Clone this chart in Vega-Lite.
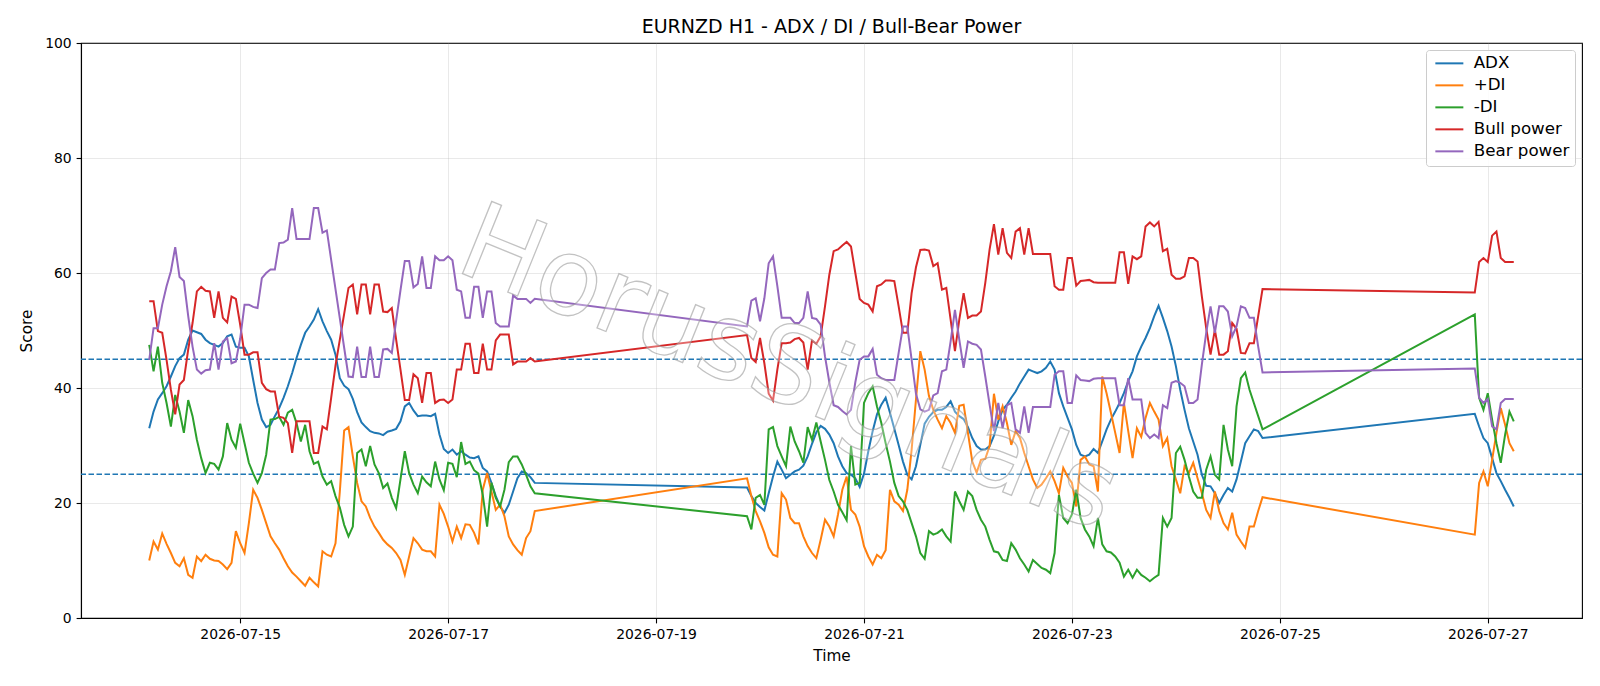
{
  "$schema": "https://vega.github.io/schema/vega-lite/v6.json",
  "autosize": {"type": "none"},
  "width": 1501,
  "height": 575,
  "padding": {"left": 81, "top": 43, "right": 18, "bottom": 68},
  "background": "white",
  "title": {"text": "EURNZD H1 - ADX / DI / Bull-Bear Power", "font": "DejaVu Sans", "fontSize": 19, "fontWeight": "normal", "color": "black", "anchor": "middle", "offset": -1},
  "config": {
    "view": {"stroke": "black", "strokeWidth": 1.1},
    "axis": {"domainColor": "black", "domainWidth": 1.1, "tickColor": "black", "tickWidth": 1.1, "tickSize": 4.9, "labelColor": "black", "titleColor": "black", "labelFont": "DejaVu Sans", "titleFont": "DejaVu Sans", "labelFontSize": 13.9, "titleFontSize": 15.3, "titleFontWeight": "normal", "labelPadding": 4.9, "grid": true, "gridColor": "#b0b0b0", "gridOpacity": 0.35, "gridWidth": 0.8},
    "legend": {"labelFont": "DejaVu Sans", "labelFontSize": 16.7, "labelColor": "black"}
  },
  "datasets": {
    "ind": [
      {"t":"2026-07-14T03:00Z","ADX":33.0,"+DI":10.0,"-DI":47.5,"Bull power":55.1,"Bear power":44.9},
      {"t":"2026-07-14T04:00Z","ADX":35.9,"+DI":13.3,"-DI":42.9,"Bull power":55.1,"Bear power":50.4},
      {"t":"2026-07-14T05:00Z","ADX":38.0,"+DI":11.9,"-DI":47.2,"Bull power":49.9,"Bear power":50.4},
      {"t":"2026-07-14T06:00Z","ADX":39.1,"+DI":14.7,"-DI":40.9,"Bull power":49.6,"Bear power":54.5},
      {"t":"2026-07-14T07:00Z","ADX":40.3,"+DI":12.9,"-DI":37.4,"Bull power":44.9,"Bear power":57.7},
      {"t":"2026-07-14T08:00Z","ADX":42.0,"+DI":11.3,"-DI":33.3,"Bull power":39.7,"Bear power":60.3},
      {"t":"2026-07-14T09:00Z","ADX":43.8,"+DI":9.6,"-DI":38.8,"Bull power":35.4,"Bear power":64.5},
      {"t":"2026-07-14T10:00Z","ADX":45.2,"+DI":9.0,"-DI":35.9,"Bull power":40.6,"Bear power":59.3},
      {"t":"2026-07-14T11:00Z","ADX":45.8,"+DI":10.4,"-DI":32.2,"Bull power":41.4,"Bear power":58.6},
      {"t":"2026-07-14T12:00Z","ADX":48.4,"+DI":7.5,"-DI":37.9,"Bull power":46.7,"Bear power":52.5},
      {"t":"2026-07-14T13:00Z","ADX":50.0,"+DI":7.0,"-DI":35.1,"Bull power":51.3,"Bear power":47.2},
      {"t":"2026-07-14T14:00Z","ADX":49.7,"+DI":10.7,"-DI":31.0,"Bull power":56.8,"Bear power":43.2},
      {"t":"2026-07-14T15:00Z","ADX":49.4,"+DI":9.9,"-DI":27.8,"Bull power":57.6,"Bear power":42.5},
      {"t":"2026-07-14T16:00Z","ADX":48.4,"+DI":11.0,"-DI":25.2,"Bull power":56.9,"Bear power":43.1},
      {"t":"2026-07-14T17:00Z","ADX":47.8,"+DI":10.3,"-DI":27.0,"Bull power":56.8,"Bear power":43.2},
      {"t":"2026-07-14T18:00Z","ADX":47.5,"+DI":10.0,"-DI":26.8,"Bull power":52.2,"Bear power":47.8},
      {"t":"2026-07-14T19:00Z","ADX":47.2,"+DI":9.9,"-DI":25.8,"Bull power":56.8,"Bear power":43.2},
      {"t":"2026-07-14T20:00Z","ADX":47.8,"+DI":9.3,"-DI":28.1,"Bull power":52.2,"Bear power":48.1},
      {"t":"2026-07-14T21:00Z","ADX":49.0,"+DI":8.5,"-DI":33.9,"Bull power":51.4,"Bear power":48.7},
      {"t":"2026-07-14T22:00Z","ADX":49.3,"+DI":9.6,"-DI":31.0,"Bull power":55.9,"Bear power":44.3},
      {"t":"2026-07-14T23:00Z","ADX":47.2,"+DI":15.1,"-DI":29.6,"Bull power":55.5,"Bear power":44.6},
      {"t":"2026-07-15T00:00Z","ADX":47.0,"+DI":13.0,"-DI":33.8,"Bull power":51.0,"Bear power":48.6},
      {"t":"2026-07-15T01:00Z","ADX":47.0,"+DI":11.3,"-DI":30.4,"Bull power":45.8,"Bear power":54.5},
      {"t":"2026-07-15T02:00Z","ADX":45.5,"+DI":16.5,"-DI":27.0,"Bull power":45.8,"Bear power":54.5},
      {"t":"2026-07-15T03:00Z","ADX":41.4,"+DI":22.3,"-DI":25.1,"Bull power":46.2,"Bear power":54.1},
      {"t":"2026-07-15T04:00Z","ADX":37.4,"+DI":20.9,"-DI":23.5,"Bull power":46.2,"Bear power":53.9},
      {"t":"2026-07-15T05:00Z","ADX":34.5,"+DI":18.8,"-DI":25.2,"Bull power":40.9,"Bear power":59.1},
      {"t":"2026-07-15T06:00Z","ADX":33.2,"+DI":16.5,"-DI":28.4,"Bull power":39.8,"Bear power":60.0},
      {"t":"2026-07-15T07:00Z","ADX":33.6,"+DI":14.2,"-DI":34.5,"Bull power":39.4,"Bear power":60.6},
      {"t":"2026-07-15T08:00Z","ADX":35.1,"+DI":13.0,"-DI":34.6,"Bull power":39.4,"Bear power":60.6},
      {"t":"2026-07-15T09:00Z","ADX":36.5,"+DI":11.9,"-DI":35.0,"Bull power":35.0,"Bear power":65.2},
      {"t":"2026-07-15T10:00Z","ADX":38.3,"+DI":10.4,"-DI":33.6,"Bull power":34.8,"Bear power":65.3},
      {"t":"2026-07-15T11:00Z","ADX":40.3,"+DI":9.0,"-DI":35.7,"Bull power":33.9,"Bear power":65.8},
      {"t":"2026-07-15T12:00Z","ADX":42.6,"+DI":7.9,"-DI":36.2,"Bull power":28.7,"Bear power":71.3},
      {"t":"2026-07-15T13:00Z","ADX":45.2,"+DI":7.2,"-DI":33.9,"Bull power":34.2,"Bear power":65.9},
      {"t":"2026-07-15T14:00Z","ADX":47.5,"+DI":6.4,"-DI":30.7,"Bull power":34.2,"Bear power":65.9},
      {"t":"2026-07-15T15:00Z","ADX":49.6,"+DI":5.6,"-DI":33.6,"Bull power":34.2,"Bear power":65.9},
      {"t":"2026-07-15T16:00Z","ADX":50.7,"+DI":7.0,"-DI":29.0,"Bull power":34.2,"Bear power":65.9},
      {"t":"2026-07-15T17:00Z","ADX":51.9,"+DI":6.2,"-DI":26.8,"Bull power":28.7,"Bear power":71.3},
      {"t":"2026-07-15T18:00Z","ADX":53.7,"+DI":5.5,"-DI":27.2,"Bull power":28.7,"Bear power":71.3},
      {"t":"2026-07-15T19:00Z","ADX":51.6,"+DI":11.6,"-DI":24.6,"Bull power":33.3,"Bear power":67.0},
      {"t":"2026-07-15T20:00Z","ADX":49.9,"+DI":11.0,"-DI":23.2,"Bull power":32.8,"Bear power":67.4},
      {"t":"2026-07-15T21:00Z","ADX":48.4,"+DI":10.7,"-DI":23.8,"Bull power":38.3,"Bear power":62.3},
      {"t":"2026-07-15T22:00Z","ADX":45.8,"+DI":13.0,"-DI":21.2,"Bull power":43.9,"Bear power":57.2},
      {"t":"2026-07-15T23:00Z","ADX":41.7,"+DI":22.0,"-DI":19.2,"Bull power":48.4,"Bear power":52.1},
      {"t":"2026-07-16T00:00Z","ADX":40.4,"+DI":32.6,"-DI":16.2,"Bull power":52.9,"Bear power":47.0},
      {"t":"2026-07-16T01:00Z","ADX":39.8,"+DI":33.2,"-DI":14.2,"Bull power":57.4,"Bear power":42.0},
      {"t":"2026-07-16T02:00Z","ADX":38.1,"+DI":28.1,"-DI":15.9,"Bull power":58.0,"Bear power":41.9},
      {"t":"2026-07-16T03:00Z","ADX":35.8,"+DI":23.5,"-DI":28.7,"Bull power":52.8,"Bear power":47.2},
      {"t":"2026-07-16T04:00Z","ADX":34.0,"+DI":20.3,"-DI":29.3,"Bull power":58.0,"Bear power":41.9},
      {"t":"2026-07-16T05:00Z","ADX":33.2,"+DI":19.4,"-DI":26.4,"Bull power":58.0,"Bear power":41.9},
      {"t":"2026-07-16T06:00Z","ADX":32.5,"+DI":17.4,"-DI":29.9,"Bull power":52.8,"Bear power":47.2},
      {"t":"2026-07-16T07:00Z","ADX":32.2,"+DI":15.9,"-DI":26.7,"Bull power":58.0,"Bear power":41.9},
      {"t":"2026-07-16T08:00Z","ADX":32.1,"+DI":14.8,"-DI":25.2,"Bull power":58.0,"Bear power":41.9},
      {"t":"2026-07-16T09:00Z","ADX":31.8,"+DI":13.6,"-DI":22.6,"Bull power":53.3,"Bear power":46.7},
      {"t":"2026-07-16T10:00Z","ADX":32.4,"+DI":12.8,"-DI":23.4,"Bull power":53.2,"Bear power":46.8},
      {"t":"2026-07-16T11:00Z","ADX":32.6,"+DI":12.2,"-DI":20.9,"Bull power":53.9,"Bear power":46.1},
      {"t":"2026-07-16T12:00Z","ADX":32.9,"+DI":11.3,"-DI":19.1,"Bull power":48.4,"Bear power":51.7},
      {"t":"2026-07-16T13:00Z","ADX":34.2,"+DI":10.1,"-DI":24.1,"Bull power":43.2,"Bear power":57.0},
      {"t":"2026-07-16T14:00Z","ADX":36.8,"+DI":7.5,"-DI":29.0,"Bull power":37.9,"Bear power":62.1},
      {"t":"2026-07-16T15:00Z","ADX":37.4,"+DI":10.7,"-DI":25.2,"Bull power":37.9,"Bear power":62.1},
      {"t":"2026-07-16T16:00Z","ADX":36.1,"+DI":13.9,"-DI":23.2,"Bull power":42.4,"Bear power":57.5},
      {"t":"2026-07-16T17:00Z","ADX":35.1,"+DI":13.0,"-DI":21.7,"Bull power":41.7,"Bear power":58.1},
      {"t":"2026-07-16T18:00Z","ADX":35.2,"+DI":11.9,"-DI":24.6,"Bull power":37.4,"Bear power":62.9},
      {"t":"2026-07-16T19:00Z","ADX":35.2,"+DI":11.6,"-DI":23.6,"Bull power":42.6,"Bear power":57.4},
      {"t":"2026-07-16T20:00Z","ADX":35.1,"+DI":11.6,"-DI":22.9,"Bull power":42.6,"Bear power":57.4},
      {"t":"2026-07-16T21:00Z","ADX":35.5,"+DI":10.7,"-DI":27.2,"Bull power":37.4,"Bear power":62.9},
      {"t":"2026-07-16T22:00Z","ADX":31.9,"+DI":19.7,"-DI":24.1,"Bull power":37.9,"Bear power":62.2},
      {"t":"2026-07-16T23:00Z","ADX":29.4,"+DI":18.1,"-DI":22.2,"Bull power":38.0,"Bear power":62.2},
      {"t":"2026-07-17T00:00Z","ADX":28.7,"+DI":15.9,"-DI":27.0,"Bull power":37.4,"Bear power":62.9},
      {"t":"2026-07-17T01:00Z","ADX":29.3,"+DI":13.3,"-DI":26.8,"Bull power":38.0,"Bear power":62.2},
      {"t":"2026-07-17T02:00Z","ADX":28.4,"+DI":15.9,"-DI":24.5,"Bull power":43.2,"Bear power":57.1},
      {"t":"2026-07-17T03:00Z","ADX":29.0,"+DI":13.9,"-DI":30.6,"Bull power":43.2,"Bear power":56.8},
      {"t":"2026-07-17T04:00Z","ADX":28.4,"+DI":16.3,"-DI":26.8,"Bull power":47.7,"Bear power":52.2},
      {"t":"2026-07-17T05:00Z","ADX":27.9,"+DI":16.2,"-DI":27.2,"Bull power":47.7,"Bear power":52.2},
      {"t":"2026-07-17T06:00Z","ADX":27.8,"+DI":14.8,"-DI":25.7,"Bull power":42.6,"Bear power":57.6},
      {"t":"2026-07-17T07:00Z","ADX":28.1,"+DI":12.8,"-DI":25.1,"Bull power":42.6,"Bear power":57.6},
      {"t":"2026-07-17T08:00Z","ADX":26.1,"+DI":22.3,"-DI":21.4,"Bull power":47.7,"Bear power":52.2},
      {"t":"2026-07-17T09:00Z","ADX":25.5,"+DI":25.2,"-DI":15.9,"Bull power":43.2,"Bear power":56.8},
      {"t":"2026-07-17T10:00Z","ADX":23.5,"+DI":22.0,"-DI":23.5,"Bull power":43.2,"Bear power":56.8},
      {"t":"2026-07-17T11:00Z","ADX":21.2,"+DI":18.8,"-DI":20.9,"Bull power":48.3,"Bear power":51.3},
      {"t":"2026-07-17T12:00Z","ADX":19.4,"+DI":19.7,"-DI":19.4,"Bull power":49.3,"Bear power":50.7},
      {"t":"2026-07-17T13:00Z","ADX":18.3,"+DI":17.7,"-DI":22.3,"Bull power":49.3,"Bear power":50.7},
      {"t":"2026-07-17T14:00Z","ADX":19.7,"+DI":14.2,"-DI":27.1,"Bull power":49.3,"Bear power":50.7},
      {"t":"2026-07-17T15:00Z","ADX":22.0,"+DI":12.8,"-DI":28.1,"Bull power":44.1,"Bear power":56.1},
      {"t":"2026-07-17T16:00Z","ADX":24.3,"+DI":11.8,"-DI":28.1,"Bull power":44.6,"Bear power":55.5},
      {"t":"2026-07-17T17:00Z","ADX":25.5,"+DI":11.0,"-DI":26.7,"Bull power":44.6,"Bear power":55.5},
      {"t":"2026-07-17T18:00Z","ADX":25.2,"+DI":13.9,"-DI":24.9,"Bull power":44.6,"Bear power":55.5},
      {"t":"2026-07-17T19:00Z","ADX":24.5,"+DI":15.1,"-DI":22.9,"Bull power":45.2,"Bear power":54.8},
      {"t":"2026-07-17T20:00Z","ADX":23.5,"+DI":18.6,"-DI":21.7,"Bull power":44.6,"Bear power":55.5},
      {"t":"2026-07-19T21:00Z","ADX":22.7,"+DI":24.3,"-DI":17.7,"Bull power":49.2,"Bear power":50.7},
      {"t":"2026-07-19T22:00Z","ADX":21.2,"+DI":21.2,"-DI":15.4,"Bull power":45.2,"Bear power":55.2},
      {"t":"2026-07-19T23:00Z","ADX":20.0,"+DI":18.6,"-DI":20.9,"Bull power":44.5,"Bear power":55.6},
      {"t":"2026-07-20T00:00Z","ADX":19.3,"+DI":16.8,"-DI":21.4,"Bull power":48.7,"Bear power":51.6},
      {"t":"2026-07-20T01:00Z","ADX":18.7,"+DI":14.8,"-DI":19.7,"Bull power":44.3,"Bear power":55.6},
      {"t":"2026-07-20T02:00Z","ADX":21.7,"+DI":12.3,"-DI":32.8,"Bull power":39.0,"Bear power":61.7},
      {"t":"2026-07-20T03:00Z","ADX":24.6,"+DI":11.0,"-DI":33.2,"Bull power":37.8,"Bear power":62.9},
      {"t":"2026-07-20T04:00Z","ADX":27.2,"+DI":10.7,"-DI":29.9,"Bull power":43.2,"Bear power":57.7},
      {"t":"2026-07-20T05:00Z","ADX":25.8,"+DI":21.7,"-DI":28.1,"Bull power":47.8,"Bear power":52.2},
      {"t":"2026-07-20T06:00Z","ADX":24.3,"+DI":20.6,"-DI":26.4,"Bull power":47.8,"Bear power":52.2},
      {"t":"2026-07-20T07:00Z","ADX":24.9,"+DI":17.4,"-DI":33.3,"Bull power":47.9,"Bear power":52.2},
      {"t":"2026-07-20T08:00Z","ADX":25.5,"+DI":16.5,"-DI":30.7,"Bull power":48.5,"Bear power":51.3},
      {"t":"2026-07-20T09:00Z","ADX":25.8,"+DI":16.5,"-DI":29.0,"Bull power":48.7,"Bear power":51.3},
      {"t":"2026-07-20T10:00Z","ADX":26.5,"+DI":14.2,"-DI":27.0,"Bull power":47.9,"Bear power":52.2},
      {"t":"2026-07-20T11:00Z","ADX":28.1,"+DI":12.5,"-DI":33.2,"Bull power":43.2,"Bear power":56.8},
      {"t":"2026-07-20T12:00Z","ADX":30.3,"+DI":11.3,"-DI":31.0,"Bull power":48.3,"Bear power":52.2},
      {"t":"2026-07-20T13:00Z","ADX":32.3,"+DI":10.4,"-DI":34.0,"Bull power":47.7,"Bear power":52.0},
      {"t":"2026-07-20T14:00Z","ADX":33.4,"+DI":13.6,"-DI":30.7,"Bull power":49.0,"Bear power":51.0},
      {"t":"2026-07-20T15:00Z","ADX":32.9,"+DI":17.1,"-DI":27.5,"Bull power":54.2,"Bear power":45.5},
      {"t":"2026-07-20T16:00Z","ADX":31.9,"+DI":15.9,"-DI":24.0,"Bull power":59.7,"Bear power":41.0},
      {"t":"2026-07-20T17:00Z","ADX":30.4,"+DI":14.2,"-DI":22.0,"Bull power":63.8,"Bear power":37.0},
      {"t":"2026-07-20T18:00Z","ADX":28.1,"+DI":18.0,"-DI":19.7,"Bull power":64.1,"Bear power":36.7},
      {"t":"2026-07-20T19:00Z","ADX":26.4,"+DI":22.3,"-DI":18.4,"Bull power":64.8,"Bear power":36.0},
      {"t":"2026-07-20T20:00Z","ADX":25.2,"+DI":24.6,"-DI":17.0,"Bull power":65.4,"Bear power":35.4},
      {"t":"2026-07-20T21:00Z","ADX":24.9,"+DI":18.8,"-DI":29.9,"Bull power":64.6,"Bear power":36.2},
      {"t":"2026-07-20T22:00Z","ADX":24.3,"+DI":18.0,"-DI":23.2,"Bull power":60.0,"Bear power":41.0},
      {"t":"2026-07-20T23:00Z","ADX":22.8,"+DI":15.9,"-DI":23.5,"Bull power":55.5,"Bear power":44.9},
      {"t":"2026-07-21T00:00Z","ADX":25.1,"+DI":12.5,"-DI":37.4,"Bull power":54.8,"Bear power":45.5},
      {"t":"2026-07-21T01:00Z","ADX":29.0,"+DI":10.7,"-DI":39.1,"Bull power":54.5,"Bear power":45.5},
      {"t":"2026-07-21T02:00Z","ADX":32.5,"+DI":9.3,"-DI":40.3,"Bull power":53.3,"Bear power":46.8},
      {"t":"2026-07-21T03:00Z","ADX":35.4,"+DI":11.0,"-DI":36.8,"Bull power":57.7,"Bear power":42.3},
      {"t":"2026-07-21T04:00Z","ADX":37.1,"+DI":10.4,"-DI":33.9,"Bull power":58.0,"Bear power":41.7},
      {"t":"2026-07-21T05:00Z","ADX":38.3,"+DI":11.8,"-DI":30.4,"Bull power":58.7,"Bear power":41.4},
      {"t":"2026-07-21T06:00Z","ADX":35.7,"+DI":22.3,"-DI":27.2,"Bull power":58.7,"Bear power":41.4},
      {"t":"2026-07-21T07:00Z","ADX":32.9,"+DI":20.3,"-DI":23.5,"Bull power":58.6,"Bear power":41.4},
      {"t":"2026-07-21T08:00Z","ADX":30.1,"+DI":19.7,"-DI":21.2,"Bull power":54.2,"Bear power":46.1},
      {"t":"2026-07-21T09:00Z","ADX":27.2,"+DI":18.6,"-DI":20.3,"Bull power":49.6,"Bear power":50.7},
      {"t":"2026-07-21T10:00Z","ADX":24.9,"+DI":22.3,"-DI":18.8,"Bull power":49.6,"Bear power":50.7},
      {"t":"2026-07-21T11:00Z","ADX":24.1,"+DI":29.3,"-DI":16.5,"Bull power":56.5,"Bear power":44.9},
      {"t":"2026-07-21T12:00Z","ADX":26.4,"+DI":38.0,"-DI":14.2,"Bull power":61.0,"Bear power":39.0},
      {"t":"2026-07-21T13:00Z","ADX":30.1,"+DI":46.4,"-DI":11.3,"Bull power":64.0,"Bear power":36.3},
      {"t":"2026-07-21T14:00Z","ADX":33.8,"+DI":43.2,"-DI":10.3,"Bull power":64.1,"Bear power":35.9},
      {"t":"2026-07-21T15:00Z","ADX":35.0,"+DI":38.6,"-DI":15.1,"Bull power":63.9,"Bear power":36.2},
      {"t":"2026-07-21T16:00Z","ADX":35.8,"+DI":36.2,"-DI":14.5,"Bull power":61.2,"Bear power":38.7},
      {"t":"2026-07-21T17:00Z","ADX":36.2,"+DI":34.5,"-DI":14.8,"Bull power":61.7,"Bear power":39.1},
      {"t":"2026-07-21T18:00Z","ADX":36.2,"+DI":33.0,"-DI":15.4,"Bull power":57.1,"Bear power":42.9},
      {"t":"2026-07-21T19:00Z","ADX":36.7,"+DI":35.1,"-DI":14.2,"Bull power":57.4,"Bear power":43.2},
      {"t":"2026-07-21T20:00Z","ADX":37.7,"+DI":33.9,"-DI":13.3,"Bull power":51.9,"Bear power":48.1},
      {"t":"2026-07-21T21:00Z","ADX":35.9,"+DI":32.2,"-DI":22.0,"Bull power":46.4,"Bear power":53.6},
      {"t":"2026-07-21T22:00Z","ADX":35.1,"+DI":36.9,"-DI":20.3,"Bull power":51.9,"Bear power":48.4},
      {"t":"2026-07-21T23:00Z","ADX":34.6,"+DI":37.1,"-DI":18.8,"Bull power":56.5,"Bear power":43.5},
      {"t":"2026-07-22T00:00Z","ADX":33.2,"+DI":32.2,"-DI":22.0,"Bull power":52.2,"Bear power":48.1},
      {"t":"2026-07-22T01:00Z","ADX":31.3,"+DI":27.2,"-DI":21.2,"Bull power":52.6,"Bear power":47.7},
      {"t":"2026-07-22T02:00Z","ADX":29.9,"+DI":25.3,"-DI":18.8,"Bull power":52.6,"Bear power":47.5},
      {"t":"2026-07-22T03:00Z","ADX":29.3,"+DI":27.5,"-DI":17.1,"Bull power":53.3,"Bear power":46.7},
      {"t":"2026-07-22T04:00Z","ADX":29.3,"+DI":27.7,"-DI":15.9,"Bull power":58.3,"Bear power":42.0},
      {"t":"2026-07-22T05:00Z","ADX":29.9,"+DI":29.9,"-DI":13.6,"Bull power":64.1,"Bear power":37.1},
      {"t":"2026-07-22T06:00Z","ADX":31.7,"+DI":39.0,"-DI":11.6,"Bull power":68.5,"Bear power":32.5},
      {"t":"2026-07-22T07:00Z","ADX":34.2,"+DI":34.5,"-DI":11.4,"Bull power":63.2,"Bear power":37.4},
      {"t":"2026-07-22T08:00Z","ADX":36.2,"+DI":36.8,"-DI":10.1,"Bull power":67.8,"Bear power":33.0},
      {"t":"2026-07-22T09:00Z","ADX":37.1,"+DI":33.9,"-DI":9.9,"Bull power":63.5,"Bear power":37.0},
      {"t":"2026-07-22T10:00Z","ADX":38.3,"+DI":30.1,"-DI":13.0,"Bull power":62.6,"Bear power":37.4},
      {"t":"2026-07-22T11:00Z","ADX":39.4,"+DI":32.5,"-DI":11.9,"Bull power":67.2,"Bear power":32.8},
      {"t":"2026-07-22T12:00Z","ADX":40.8,"+DI":31.3,"-DI":10.4,"Bull power":67.8,"Bear power":32.2},
      {"t":"2026-07-22T13:00Z","ADX":42.0,"+DI":28.7,"-DI":9.3,"Bull power":63.2,"Bear power":36.8},
      {"t":"2026-07-22T14:00Z","ADX":43.2,"+DI":26.4,"-DI":8.1,"Bull power":67.8,"Bear power":32.2},
      {"t":"2026-07-22T15:00Z","ADX":42.9,"+DI":24.1,"-DI":10.1,"Bull power":63.3,"Bear power":36.7},
      {"t":"2026-07-22T16:00Z","ADX":42.6,"+DI":22.6,"-DI":9.4,"Bull power":63.3,"Bear power":36.7},
      {"t":"2026-07-22T17:00Z","ADX":42.9,"+DI":23.2,"-DI":8.7,"Bull power":63.3,"Bear power":36.7},
      {"t":"2026-07-22T18:00Z","ADX":43.5,"+DI":24.3,"-DI":8.4,"Bull power":63.3,"Bear power":36.7},
      {"t":"2026-07-22T19:00Z","ADX":44.6,"+DI":25.5,"-DI":7.8,"Bull power":63.3,"Bear power":36.7},
      {"t":"2026-07-22T20:00Z","ADX":43.2,"+DI":23.8,"-DI":11.3,"Bull power":57.7,"Bear power":42.3},
      {"t":"2026-07-22T21:00Z","ADX":39.1,"+DI":21.7,"-DI":21.4,"Bull power":57.1,"Bear power":42.9},
      {"t":"2026-07-22T22:00Z","ADX":36.8,"+DI":26.1,"-DI":17.4,"Bull power":57.1,"Bear power":42.9},
      {"t":"2026-07-22T23:00Z","ADX":34.8,"+DI":24.6,"-DI":16.5,"Bull power":62.6,"Bear power":37.4},
      {"t":"2026-07-23T00:00Z","ADX":32.8,"+DI":23.5,"-DI":18.0,"Bull power":62.6,"Bear power":37.4},
      {"t":"2026-07-23T01:00Z","ADX":30.1,"+DI":19.4,"-DI":22.3,"Bull power":57.8,"Bear power":42.2},
      {"t":"2026-07-23T02:00Z","ADX":28.4,"+DI":27.5,"-DI":17.4,"Bull power":58.6,"Bear power":41.4},
      {"t":"2026-07-23T03:00Z","ADX":28.1,"+DI":28.1,"-DI":15.4,"Bull power":58.7,"Bear power":41.3},
      {"t":"2026-07-23T04:00Z","ADX":28.4,"+DI":26.7,"-DI":14.2,"Bull power":58.8,"Bear power":41.2},
      {"t":"2026-07-23T05:00Z","ADX":29.4,"+DI":26.4,"-DI":12.5,"Bull power":58.4,"Bear power":41.6},
      {"t":"2026-07-23T06:00Z","ADX":28.7,"+DI":22.0,"-DI":17.4,"Bull power":58.3,"Bear power":41.7},
      {"t":"2026-07-23T07:00Z","ADX":30.7,"+DI":42.0,"-DI":12.8,"Bull power":58.3,"Bear power":41.7},
      {"t":"2026-07-23T08:00Z","ADX":32.8,"+DI":39.1,"-DI":11.6,"Bull power":58.3,"Bear power":41.7},
      {"t":"2026-07-23T09:00Z","ADX":34.5,"+DI":35.7,"-DI":11.4,"Bull power":58.3,"Bear power":41.7},
      {"t":"2026-07-23T10:00Z","ADX":35.9,"+DI":32.2,"-DI":10.7,"Bull power":58.3,"Bear power":41.7},
      {"t":"2026-07-23T11:00Z","ADX":37.4,"+DI":28.7,"-DI":9.6,"Bull power":63.6,"Bear power":37.0},
      {"t":"2026-07-23T12:00Z","ADX":39.1,"+DI":37.4,"-DI":7.2,"Bull power":63.6,"Bear power":37.0},
      {"t":"2026-07-23T13:00Z","ADX":41.2,"+DI":32.5,"-DI":8.4,"Bull power":58.1,"Bear power":41.7},
      {"t":"2026-07-23T14:00Z","ADX":42.9,"+DI":27.8,"-DI":7.0,"Bull power":62.9,"Bear power":38.0},
      {"t":"2026-07-23T15:00Z","ADX":45.5,"+DI":33.0,"-DI":8.4,"Bull power":62.4,"Bear power":38.0},
      {"t":"2026-07-23T16:00Z","ADX":47.2,"+DI":31.5,"-DI":7.5,"Bull power":62.9,"Bear power":38.0},
      {"t":"2026-07-23T17:00Z","ADX":48.7,"+DI":34.8,"-DI":7.0,"Bull power":68.1,"Bear power":32.2},
      {"t":"2026-07-23T18:00Z","ADX":50.4,"+DI":37.4,"-DI":6.4,"Bull power":68.8,"Bear power":31.3},
      {"t":"2026-07-23T19:00Z","ADX":52.5,"+DI":35.9,"-DI":7.0,"Bull power":68.1,"Bear power":31.9},
      {"t":"2026-07-23T20:00Z","ADX":54.3,"+DI":34.5,"-DI":7.5,"Bull power":68.9,"Bear power":31.3},
      {"t":"2026-07-23T21:00Z","ADX":52.2,"+DI":29.9,"-DI":17.4,"Bull power":63.8,"Bear power":37.0},
      {"t":"2026-07-23T22:00Z","ADX":49.9,"+DI":31.3,"-DI":15.9,"Bull power":64.2,"Bear power":36.5},
      {"t":"2026-07-23T23:00Z","ADX":47.2,"+DI":26.4,"-DI":17.4,"Bull power":59.7,"Bear power":40.9},
      {"t":"2026-07-24T00:00Z","ADX":43.8,"+DI":24.1,"-DI":28.7,"Bull power":59.0,"Bear power":41.2},
      {"t":"2026-07-24T01:00Z","ADX":39.7,"+DI":21.7,"-DI":29.8,"Bull power":59.0,"Bear power":40.9},
      {"t":"2026-07-24T02:00Z","ADX":36.2,"+DI":26.4,"-DI":27.5,"Bull power":59.4,"Bear power":40.3},
      {"t":"2026-07-24T03:00Z","ADX":33.0,"+DI":25.2,"-DI":24.6,"Bull power":62.6,"Bear power":37.4},
      {"t":"2026-07-24T04:00Z","ADX":30.7,"+DI":27.0,"-DI":22.0,"Bull power":62.6,"Bear power":37.4},
      {"t":"2026-07-24T05:00Z","ADX":28.4,"+DI":24.3,"-DI":20.9,"Bull power":62.0,"Bear power":38.0},
      {"t":"2026-07-24T06:00Z","ADX":24.9,"+DI":21.7,"-DI":20.9,"Bull power":55.9,"Bear power":44.1},
      {"t":"2026-07-24T07:00Z","ADX":23.0,"+DI":18.8,"-DI":25.8,"Bull power":50.4,"Bear power":49.6},
      {"t":"2026-07-24T08:00Z","ADX":22.9,"+DI":17.4,"-DI":28.1,"Bull power":45.8,"Bear power":54.2},
      {"t":"2026-07-24T09:00Z","ADX":21.7,"+DI":22.0,"-DI":24.9,"Bull power":50.1,"Bear power":49.6},
      {"t":"2026-07-24T10:00Z","ADX":20.0,"+DI":18.6,"-DI":24.1,"Bull power":45.8,"Bear power":54.2},
      {"t":"2026-07-24T11:00Z","ADX":21.4,"+DI":16.5,"-DI":33.6,"Bull power":45.8,"Bear power":54.2},
      {"t":"2026-07-24T12:00Z","ADX":22.6,"+DI":15.4,"-DI":29.3,"Bull power":46.4,"Bear power":53.3},
      {"t":"2026-07-24T13:00Z","ADX":22.0,"+DI":18.3,"-DI":26.4,"Bull power":51.3,"Bear power":49.0},
      {"t":"2026-07-24T14:00Z","ADX":24.1,"+DI":14.5,"-DI":36.8,"Bull power":50.3,"Bear power":50.7},
      {"t":"2026-07-24T15:00Z","ADX":27.2,"+DI":13.3,"-DI":41.7,"Bull power":46.1,"Bear power":54.2},
      {"t":"2026-07-24T16:00Z","ADX":30.4,"+DI":12.2,"-DI":42.7,"Bull power":46.0,"Bear power":53.9},
      {"t":"2026-07-24T17:00Z","ADX":31.6,"+DI":15.9,"-DI":39.7,"Bull power":47.8,"Bear power":52.2},
      {"t":"2026-07-24T18:00Z","ADX":32.8,"+DI":15.9,"-DI":37.4,"Bull power":47.8,"Bear power":52.2},
      {"t":"2026-07-24T19:00Z","ADX":32.5,"+DI":18.6,"-DI":35.1,"Bull power":52.5,"Bear power":47.2},
      {"t":"2026-07-24T20:00Z","ADX":31.3,"+DI":21.0,"-DI":32.8,"Bull power":57.2,"Bear power":42.7},
      {"t":"2026-07-26T21:00Z","ADX":35.5,"+DI":14.5,"-DI":52.8,"Bull power":56.6,"Bear power":43.4},
      {"t":"2026-07-26T22:00Z","ADX":33.3,"+DI":23.5,"-DI":38.3,"Bull power":61.9,"Bear power":38.3},
      {"t":"2026-07-26T23:00Z","ADX":31.3,"+DI":25.5,"-DI":36.2,"Bull power":62.6,"Bear power":37.4},
      {"t":"2026-07-27T00:00Z","ADX":30.4,"+DI":22.9,"-DI":39.1,"Bull power":61.9,"Bear power":38.1},
      {"t":"2026-07-27T01:00Z","ADX":27.8,"+DI":27.5,"-DI":34.5,"Bull power":66.5,"Bear power":33.3},
      {"t":"2026-07-27T02:00Z","ADX":25.2,"+DI":32.2,"-DI":30.4,"Bull power":67.2,"Bear power":32.8},
      {"t":"2026-07-27T03:00Z","ADX":23.8,"+DI":36.5,"-DI":27.0,"Bull power":62.6,"Bear power":37.4},
      {"t":"2026-07-27T04:00Z","ADX":22.3,"+DI":33.6,"-DI":31.9,"Bull power":61.9,"Bear power":38.1},
      {"t":"2026-07-27T05:00Z","ADX":20.9,"+DI":30.4,"-DI":35.9,"Bull power":61.9,"Bear power":38.1},
      {"t":"2026-07-27T06:00Z","ADX":19.4,"+DI":29.0,"-DI":34.2,"Bull power":61.9,"Bear power":38.1}
    ]
  },
  "layer": [
    {
      "data": {"values": [{"level": 45}, {"level": 25}]},
      "mark": {"type": "rule", "color": "#1f77b4", "strokeWidth": 1.3, "strokeDash": [5.5, 2.5]},
      "encoding": {"y": {"field": "level", "type": "quantitative"}}
    },
    {
      "data": {"name": "ind"},
      "transform": [{"fold": ["ADX", "+DI", "-DI", "Bull power", "Bear power"], "as": ["series", "value"]}],
      "mark": {"type": "line", "strokeWidth": 2, "interpolate": "linear"},
      "encoding": {
        "x": {"field": "t", "type": "temporal", "title": "Time",
              "scale": {"type": "utc", "domain": [{"year": 2026, "month": 7, "date": 13, "hours": 11, "minutes": 15, "utc": true}, {"year": 2026, "month": 7, "date": 27, "hours": 21, "minutes": 45, "utc": true}]},
              "axis": {"format": "%Y-%m-%d", "labelAngle": 0, "titlePadding": 7,
                       "values": [{"year": 2026, "month": 7, "date": 15, "utc": true}, {"year": 2026, "month": 7, "date": 17, "utc": true}, {"year": 2026, "month": 7, "date": 19, "utc": true}, {"year": 2026, "month": 7, "date": 21, "utc": true}, {"year": 2026, "month": 7, "date": 23, "utc": true}, {"year": 2026, "month": 7, "date": 25, "utc": true}, {"year": 2026, "month": 7, "date": 27, "utc": true}]}},
        "y": {"field": "value", "type": "quantitative", "title": "Score",
              "scale": {"domain": [0, 100], "nice": false, "zero": false},
              "axis": {"values": [0, 20, 40, 60, 80, 100], "titlePadding": 10}},
        "color": {"field": "series", "type": "nominal", "sort": ["ADX", "+DI", "-DI", "Bull power", "Bear power"],
                  "scale": {"domain": ["ADX", "+DI", "-DI", "Bull power", "Bear power"], "range": ["#1f77b4", "#ff7f0e", "#2ca02c", "#d62728", "#9467bd"]},
                  "legend": {"title": null, "orient": "top-right", "offset": 7, "padding": 5, "fillColor": "rgba(255,255,255,0.85)", "strokeColor": "#cccccc", "cornerRadius": 3, "symbolType": "M-2,0H2", "symbolSize": 196, "symbolOffset": 10, "symbolStrokeWidth": 2, "labelOffset": 16, "rowPadding": 4, "labelFontSize": 16.7}}
      }
    },
    {
      "data": {"values": [{"t": "2026-07-20T06:30Z", "v": 43, "label": "HorusSignals"}]},
      "mark": {"type": "text", "font": "DejaVu Sans", "fontSize": 107, "angle": 22, "align": "center", "baseline": "middle", "fill": "white", "fillOpacity": 0.3, "stroke": "#9a9a9a", "strokeWidth": 1.3, "strokeOpacity": 0.6},
      "encoding": {
        "x": {"field": "t", "type": "temporal"},
        "y": {"field": "v", "type": "quantitative"},
        "text": {"field": "label"}
      }
    }
  ]
}
